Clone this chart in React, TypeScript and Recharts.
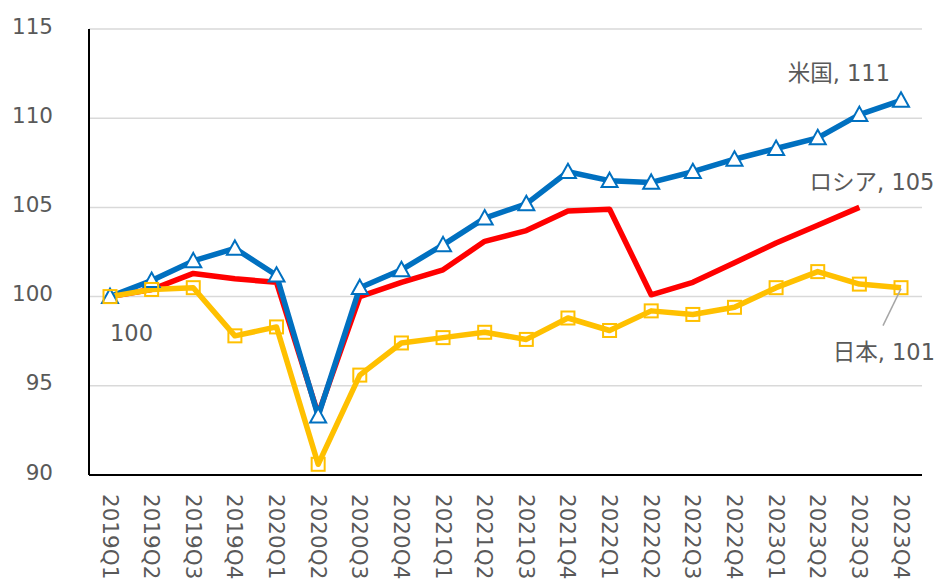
import React from 'react';
import { LineChart, Line, XAxis, YAxis, CartesianGrid } from 'recharts';

const quarters = ['2019Q1','2019Q2','2019Q3','2019Q4','2020Q1','2020Q2','2020Q3','2020Q4','2021Q1','2021Q2','2021Q3','2021Q4','2022Q1','2022Q2','2022Q3','2022Q4','2023Q1','2023Q2','2023Q3','2023Q4'];
const usValues = [100, 100.9, 102.0, 102.7, 101.2, 93.3, 100.5, 101.5, 102.9, 104.4, 105.2, 107.0, 106.5, 106.4, 107.0, 107.7, 108.3, 108.9, 110.2, 111.0];
const russiaValues: (number | null)[] = [100, 100.4, 101.3, 101.0, 100.8, 93.4, 100.0, 100.8, 101.5, 103.1, 103.7, 104.8, 104.9, 100.1, 100.8, 101.9, 103.0, 104.0, 105.0, null];
const japanValues = [100, 100.4, 100.5, 97.8, 98.3, 90.6, 95.6, 97.4, 97.7, 98.0, 97.6, 98.8, 98.1, 99.2, 99.0, 99.4, 100.5, 101.4, 100.7, 100.5];
const yTicks = [90, 95, 100, 105, 110, 115];

const data = quarters.map((q, i) => ({ q, us: usValues[i], russia: russiaValues[i], japan: japanValues[i] }));

const FONT = '"DejaVu Sans", "Noto Sans CJK JP", sans-serif';
const TEXT = '#595959';
const BLUE = '#0070C0';
const RED = '#FF0000';
const YELLOW = '#FFC000';
const FS = 21.5;
const LFS = 22.5;

const Triangle = (props: any) => {
  const { cx, cy } = props;
  if (cx == null || cy == null) return null;
  const s = 8;
  return <polygon points={`${cx},${cy - s} ${cx + s},${cy + s * 0.8} ${cx - s},${cy + s * 0.8}`} fill="#fff" stroke={BLUE} strokeWidth={2} />;
};

const Square = (props: any) => {
  const { cx, cy } = props;
  if (cx == null || cy == null) return null;
  return <rect x={cx - 6.5} y={cy - 6.5} width={13} height={13} fill="none" stroke={YELLOW} strokeWidth={2} />;
};

const XTick = (props: any) => {
  const { x, y, payload } = props;
  return (
    <text transform={`translate(${x},${y}) rotate(90)`} textAnchor="start" dominantBaseline="central" fill={TEXT} fontSize={FS} fontFamily={FONT}>
      {payload.value}
    </text>
  );
};

const YTick = (props: any) => {
  const { x, y, payload } = props;
  return (
    <text x={x} y={y - 3} textAnchor="end" dominantBaseline="central" fill={TEXT} fontSize={FS} fontFamily={FONT}>
      {payload.value}
    </text>
  );
};

const usLabel = (props: any) => {
  const { x, y, index } = props;
  if (index !== usValues.length - 1) return null;
  return <text x={x - 11} y={y - 27} textAnchor="end" dominantBaseline="central" fill={TEXT} fontSize={LFS} fontFamily={FONT}>米国, 111</text>;
};

const russiaLabel = (props: any) => {
  const { x, y, index } = props;
  if (index !== 18) return null;
  return <text x={x + 75} y={y - 25} textAnchor="end" dominantBaseline="central" fill={TEXT} fontSize={LFS} fontFamily={FONT}>ロシア, 105</text>;
};

const japanLabel = (props: any) => {
  const { x, y, index } = props;
  if (index === 0) {
    return <text x={x} y={y + 36} textAnchor="start" dominantBaseline="central" fill={TEXT} fontSize={LFS} fontFamily={FONT}>100</text>;
  }
  if (index === japanValues.length - 1) {
    return (
      <g>
        <line x1={x - 18} y1={y + 38} x2={x} y2={y + 1} stroke="#A6A6A6" strokeWidth={1.5} />
        <text x={x + 34} y={y + 64} textAnchor="end" dominantBaseline="central" fill={TEXT} fontSize={LFS} fontFamily={FONT}>日本, 101</text>
      </g>
    );
  }
  return null;
};

export default function App() {
  return (
    <div style={{ position: 'absolute', left: 0, top: 0, background: '#fff' }}>
      <LineChart width={937} height={583} data={data} margin={{ top: 29, right: 15, bottom: 0, left: 0 }}>
        <CartesianGrid horizontal vertical={false} stroke="#D9D9D9" strokeWidth={1.5} />
        <XAxis dataKey="q" height={108} padding={{ left: 21, right: 21 }} tickLine={false} axisLine={{ stroke: '#000', strokeWidth: 2 }} tick={<XTick />} tickSize={0} tickMargin={19} interval={0} />
        <YAxis width={89} domain={[90, 115]} ticks={yTicks} tickLine={false} axisLine={{ stroke: '#000', strokeWidth: 2 }} tick={<YTick />} tickSize={0} tickMargin={36} />
        <Line dataKey="russia" stroke={RED} strokeWidth={5.5} dot={false} isAnimationActive={false} strokeLinejoin="round" label={russiaLabel} />
        <Line dataKey="us" stroke={BLUE} strokeWidth={5.5} dot={<Triangle />} isAnimationActive={false} strokeLinejoin="round" label={usLabel} />
        <Line dataKey="japan" stroke={YELLOW} strokeWidth={5.5} dot={<Square />} isAnimationActive={false} strokeLinejoin="round" label={japanLabel} />
      </LineChart>
    </div>
  );
}
